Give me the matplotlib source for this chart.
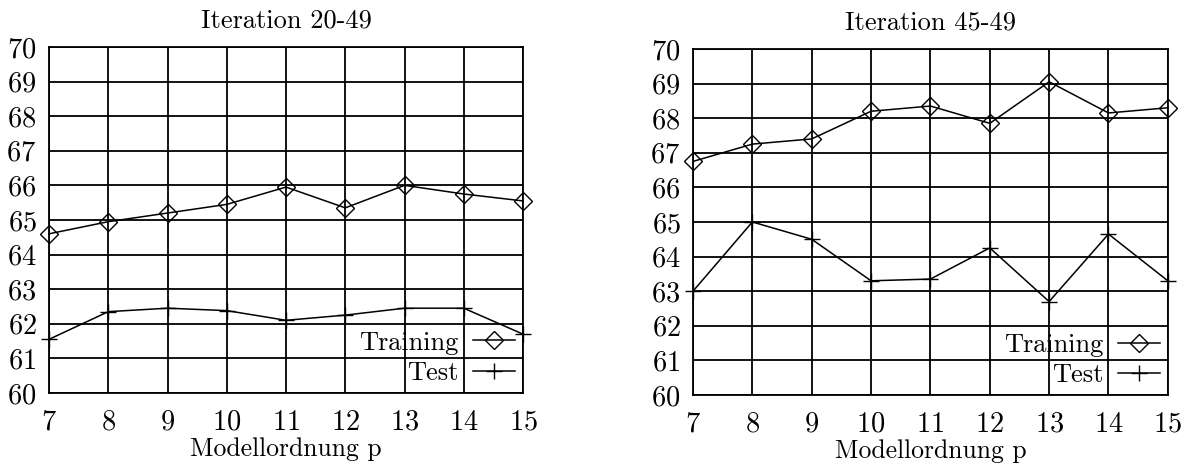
import matplotlib
matplotlib.use("Agg")
import matplotlib.pyplot as plt

plt.rcParams['font.family'] = ['cmr10', 'DejaVu Serif']
plt.rcParams['axes.formatter.use_mathtext'] = True

p = [7, 8, 9, 10, 11, 12, 13, 14, 15]

train_20_49 = [64.6, 64.95, 65.2, 65.45, 65.95, 65.35, 66.0, 65.75, 65.55]
test_20_49 = [61.55, 62.35, 62.45, 62.38, 62.1, 62.25, 62.45, 62.45, 61.7]

train_45_49 = [66.75, 67.25, 67.4, 68.2, 68.35, 67.85, 69.05, 68.15, 68.3]
test_45_49 = [63.0, 65.0, 64.5, 63.3, 63.35, 64.25, 62.7, 64.65, 63.3]

titles = ["Iteration 20-49", "Iteration 45-49"]
xlabel = "Modellordnung p"
yticks = list(range(60, 71))

fig = plt.figure(figsize=(11.93, 4.67), dpi=100)
fig.patch.set_facecolor('white')
positions = [[0.0411, 0.1585, 0.3973, 0.741], [0.5809, 0.1542, 0.398, 0.741]]
data = [(train_20_49, test_20_49), (train_45_49, test_45_49)]

for pos, title, (tr, te) in zip(positions, titles, data):
    ax = fig.add_axes(pos)
    ax.set_xlim(7, 15)
    ax.set_ylim(60, 70)
    ax.set_xticks(p)
    ax.set_yticks(yticks)
    ax.grid(True, color='black', linewidth=1.3)
    for s in ax.spines.values():
        s.set_linewidth(1.3)
    ax.tick_params(length=0, labelsize=20.5)
    ax.tick_params(axis='x', pad=12)
    ax.tick_params(axis='y', pad=9)
    ax.plot(p, tr, color='black', linewidth=1.1, marker='D', markersize=9.5,
            markerfacecolor='none', markeredgecolor='black', markeredgewidth=1.0,
            label='Training', clip_on=False, zorder=3)
    ax.plot(p, te, color='black', linewidth=1.1, marker='+', markersize=11,
            markeredgewidth=1.0, label='Test', clip_on=False, zorder=3)
    ax.set_title(title, fontsize=19, pad=14)
    ax.set_xlabel(xlabel, fontsize=18.5, labelpad=1)
    ax.legend(loc='lower right', frameon=False, markerfirst=False, fontsize=19,
              handlelength=1.6, handletextpad=0.55, borderaxespad=0.1,
              labelspacing=0.25, borderpad=0.2)

fig.savefig('out.png', dpi=100, facecolor='white')
